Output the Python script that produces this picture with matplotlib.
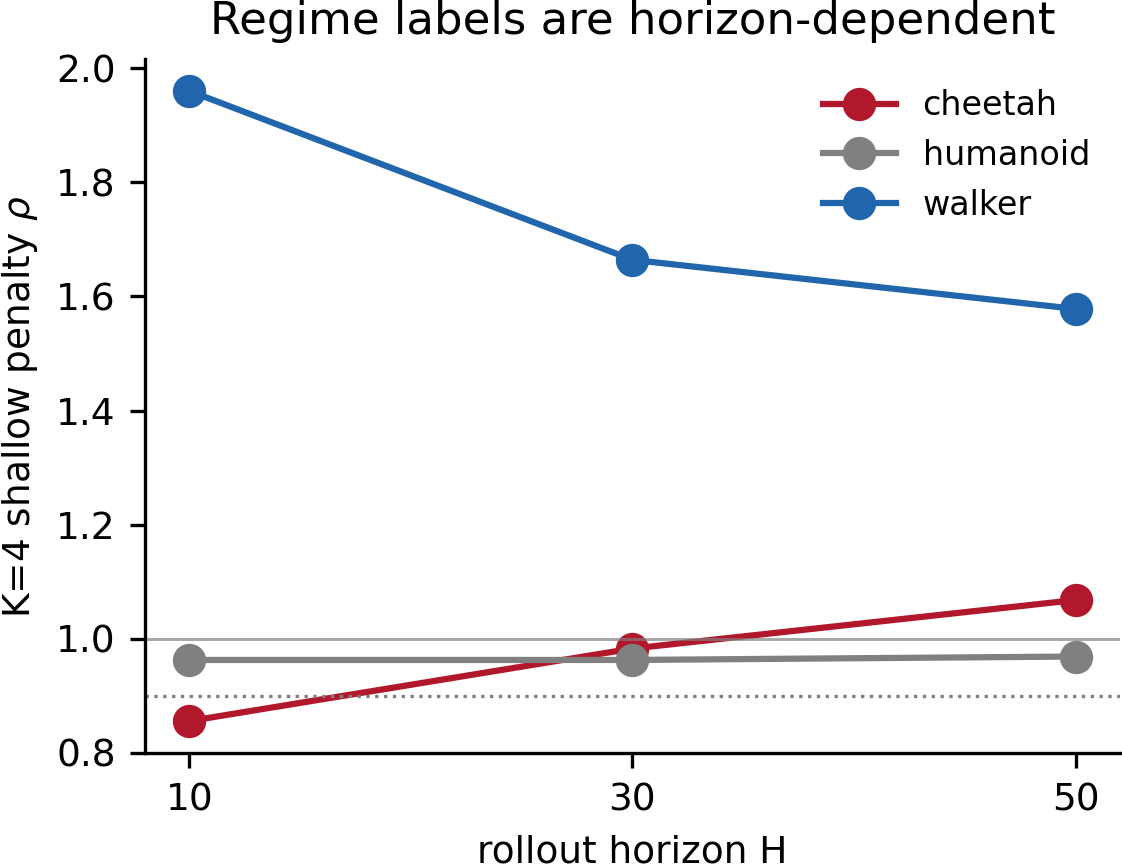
import matplotlib
matplotlib.use('Agg')
from matplotlib import pyplot as plt

# rollout horizons and K=4 shallow penalty per environment
horizons = [10, 30, 50]
cheetah = [0.856, 0.983, 1.068]
humanoid = [0.963, 0.963, 0.969]
walker = [1.960, 1.664, 1.578]

envs = ['cheetah', 'humanoid', 'walker']
colors = ['#b2182b', 'gray', '#2166ac']

fig = plt.figure(figsize=(3.74, 2.8867))
ax = fig.add_axes([0.1292, 0.1305, 0.8690, 0.8009])

for name, vals, c in zip(envs, [cheetah, humanoid, walker], colors):
    ax.plot(horizons, vals, 'o-', color=c, lw=1.5, markersize=7, label=name)

ax.axhline(1.0, color='gray', lw=0.7, alpha=0.7)
ax.axhline(0.9, color='gray', lw=0.8, ls=':')

ax.set_ylim(bottom=0.8)
ax.set_xticks(horizons)
ax.tick_params(labelsize=9)
ax.set_xlabel('rollout horizon H', fontsize=9)
ax.set_ylabel(r'K=4 shallow penalty $\rho$', fontsize=9)
ax.set_title('Regime labels are horizon-dependent', fontsize=10.8)
ax.spines['top'].set_visible(False)
ax.spines['right'].set_visible(False)
ax.legend(loc='upper right', frameon=False, fontsize=8, handlelength=2.2)

fig.savefig('out.png', dpi=300)
